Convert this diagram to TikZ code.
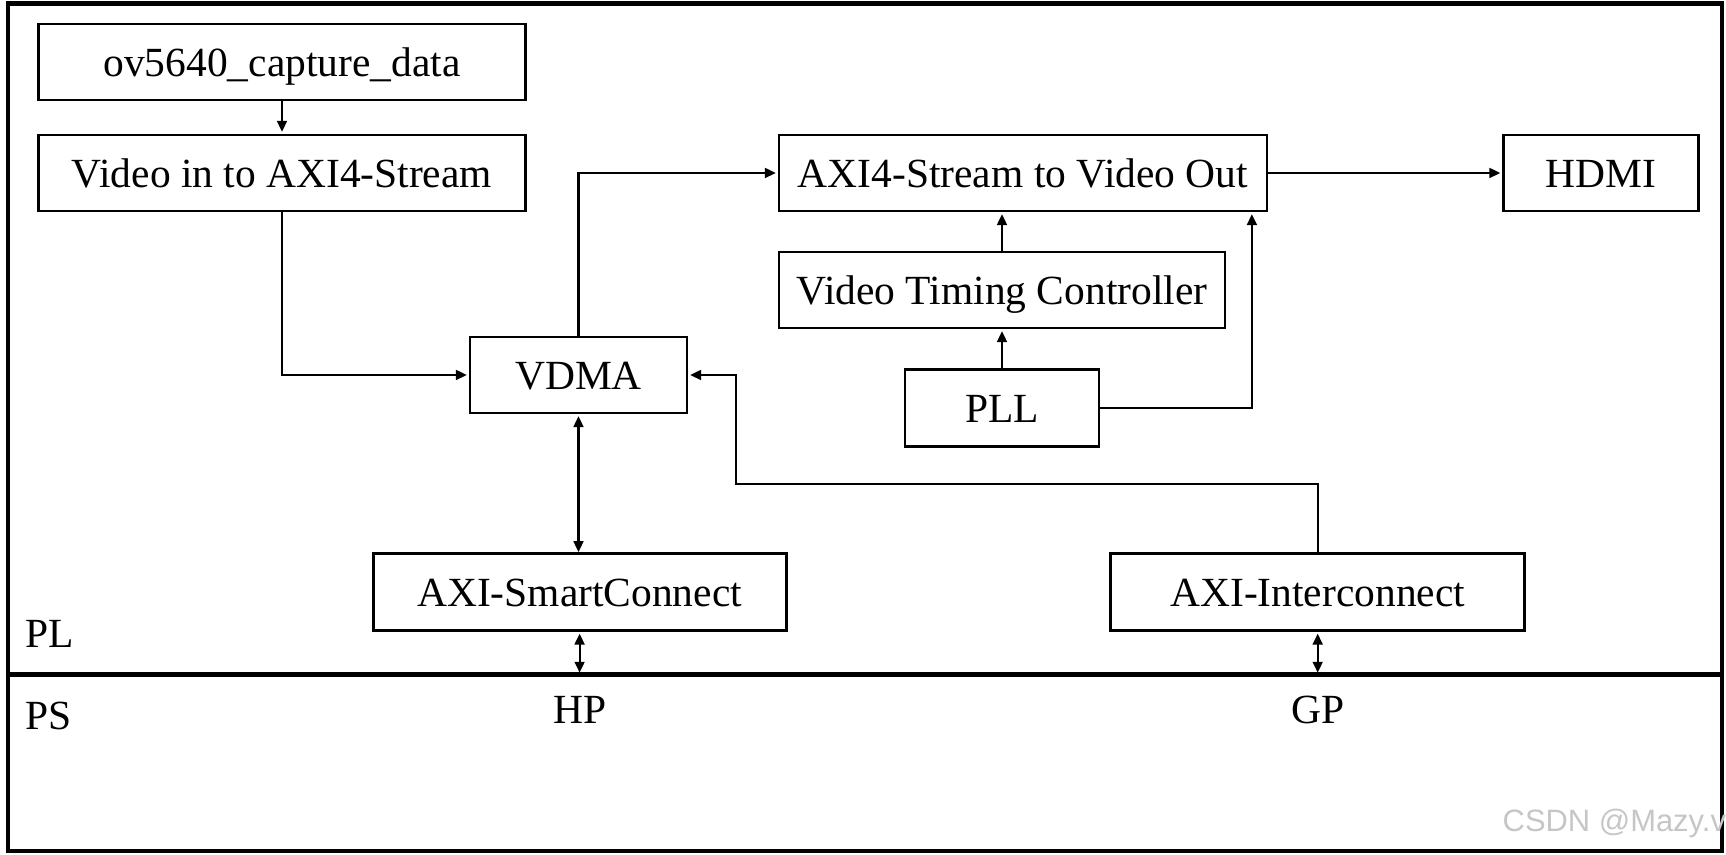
\documentclass[tikz,border=0pt]{standalone}
\usepackage{fontspec}
\setmainfont{Liberation Serif}
\newfontfamily\wmfont{Liberation Sans}
\usetikzlibrary{arrows.meta}
\begin{document}
\begin{tikzpicture}[x=0.1mm,y=-0.1mm,
  txt/.style={inner sep=0pt, font=\fontsize{11.8}{14}\selectfont},
  box/.style={txt, draw, line width=0.8pt, text height=0.84em, text depth=0pt},
  tip/.style={},
  conn/.style={line width=0.6pt, -{Triangle[length=3.1pt,width=2.8pt]}, shorten >=0.5pt},
  dconn/.style={line width=0.6pt, {Triangle[length=3.1pt,width=2.8pt]}-{Triangle[length=3.1pt,width=2.8pt]}, shorten <=0.5pt},
  heavy/.style={line width=1.3pt}]
\useasboundingbox (0,0) rectangle (1726,855);
% frame and divider
\draw[heavy] (8,3.5) rectangle (1722,851);
\coordinate (dl) at (8,674.8);
\coordinate (dr) at (1722,674.8);
\draw[heavy] (dl) -- (dr);
% blocks
\node[box, minimum width=48.7mm, minimum height=7.6mm] (ov) at (282,62) {ov5640\_capture\_data};
\node[box, minimum width=48.7mm, minimum height=7.6mm] (vin) at (282,173) {Video in to AXI4-Stream};
\node[box, minimum width=48.8mm, minimum height=7.6mm] (axo) at (1023,173) {AXI4-Stream to Video Out};
\node[box, minimum width=19.5mm, minimum height=7.6mm] (hdmi) at (1601,173) {HDMI};
\node[box, minimum width=44.6mm, minimum height=7.6mm] (vtc) at (1002,290) {Video Timing Controller};
\node[box, minimum width=19.4mm, minimum height=7.7mm] (pll) at (1002,408) {PLL};
\node[box, minimum width=21.7mm, minimum height=7.6mm] (vdma) at (578.5,375) {VDMA};
\node[box, minimum width=41.3mm, minimum height=7.7mm] (sc) at (579.6,592) {AXI-SmartConnect};
\node[box, minimum width=41.4mm, minimum height=7.7mm] (ic) at (1317.7,592) {AXI-Interconnect};
% labels
\node[txt, anchor=west] (pl) at (25,634) {PL};
\node[txt, anchor=west] (ps) at (25,716) {PS};
\node[txt] (hp) at (579.6,710) {HP};
\node[txt] (gp) at (1317.7,710) {GP};
% connectors
\draw[conn] (ov) -- (vin);
\draw[conn] (vin.south) |- (vdma.west);
\draw[conn] (vdma.north) |- (axo.west);
\draw[conn] (axo) -- (hdmi);
\draw[conn] (vtc.north) -- (vtc.north |- axo.south);
\draw[conn] (pll) -- (vtc);
\draw[conn] (pll.east) -| ([xshift=-1.65mm]axo.south east);
\coordinate (j1) at (736.4,484.4);
\draw[conn] (ic.north) |- (j1) |- (vdma.east);
\draw[dconn] (vdma.south) -- (vdma.south |- sc.north);
\draw[dconn] (sc.south) -- ([yshift=0.6pt]sc.south |- dl);
\draw[dconn] (ic.south) -- ([yshift=0.6pt]ic.south |- dl);
% watermark
\node[inner sep=0pt, anchor=west, font=\wmfont\fontsize{8.8}{10}\selectfont, text=gray!45] (wm) at (1502,824) {CSDN @Mazy.v};
\end{tikzpicture}
\end{document}
